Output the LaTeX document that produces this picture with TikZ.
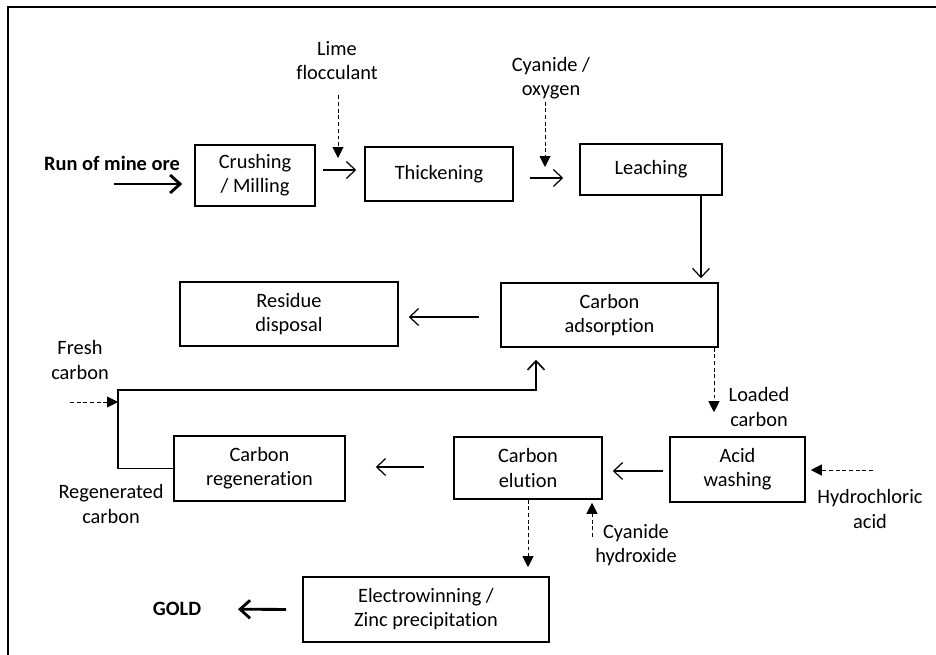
\documentclass[tikz,border=0pt]{standalone}
\usepackage{fontspec}
\setmainfont{Carlito}[Ligatures=NoCommon]
\usetikzlibrary{positioning}
\usetikzlibrary{arrows.meta}

\begin{document}
\begin{tikzpicture}[x=0.02cm, y=-0.02cm,
        font=\fontsize{11.6}{13.7}\selectfont,
        stage/.style={draw, rectangle, line width=0.9pt, align=center, inner sep=0pt},
        tag/.style={align=center, inner sep=0pt},
        flow/.style={-{Straight Barb[length=1.8mm,width=3.4mm]}, line width=0.7pt},
        bigflow/.style={-{Straight Barb[length=2mm,width=3.6mm]}, line width=1.6pt},
        feed/.style={-{Triangle[length=2.2mm,width=2.2mm]}, dash pattern=on 2.2pt off 1.6pt, line width=0.5pt}]
            \useasboundingbox (0,0) rectangle (936,655);
            \draw[line width=1.1pt] (936,7) -- (8,7) -- (8,655);

            % Gold recovery process flow
            \node[stage, minimum width=2.4cm, minimum height=1.22cm] (crush) at (255,175.5) {Crushing\\/ Milling};
            \node[stage, minimum width=2.96cm, minimum height=1.08cm] (thick) at (439,174) {Thickening};
            \node[stage, minimum width=2.84cm, minimum height=1.02cm] (leach) at (651,169.5) {Leaching};
            \node[stage, minimum width=4.36cm, minimum height=1.28cm] (residue) at (289,314) {Residue\\disposal};
            \node[stage, minimum width=4.34cm, minimum height=1.28cm] (adsorb) at (609.5,315) {Carbon\\adsorption};
            \node[stage, minimum width=3.42cm, minimum height=1.3cm] (regen) at (259.5,468.5) {Carbon\\regeneration};
            \node[stage, minimum width=2.96cm, minimum height=1.24cm] (elution) at (528,468) {Carbon\\elution};
            \node[stage, minimum width=2.7cm, minimum height=1.3cm] (acid) at (737.5,469.5) {Acid\\washing};
            \node[stage, minimum width=4.92cm, minimum height=1.3cm] (electro) at (426,609.5) {Electrowinning /\\Zinc precipitation};

            % inputs and outputs
            \node[tag] (ore) at (112,163) {\textbf{Run of mine ore}};
            \node[tag] (lime) at (337,61) {Lime\\flocculant};
            \node[tag] (cyox) at (551,78) {Cyanide /\\oxygen};
            \node[tag] (fresh) at (80,360) {Fresh\\carbon};
            \node[tag] (loaded) at (759,407) {Loaded\\carbon};
            \node[tag] (regcarbon) at (111,504) {Regenerated\\carbon};
            \node[tag] (hcl) at (870,509) {Hydrochloric\\acid};
            \node[tag] (cyhyd) at (636,545) {Cyanide\\hydroxide};
            \node[tag] (gold) at (177,609) {\textbf{GOLD}};

            \coordinate (orein) at (114,184);
            \coordinate (limein) at (338,158);
            \coordinate (cyoxin) at (545,167);
            \coordinate (loop) at (118,390);
            \coordinate (freshin) at (70,402);
            \coordinate (hclin) at (873,470);
            \coordinate (cyhydout) at (592,537);

            \draw[bigflow, shorten >=0.24cm] (orein) -- (orein -| crush.west);
            \draw[flow, shorten <=0.14cm, shorten >=0.16cm] ([yshift=0.11cm]crush.east) -- ([yshift=0.11cm]crush.east -| thick.west);
            \draw[flow, shorten <=0.32cm, shorten >=0.32cm] ([yshift=-0.08cm]thick.east) -- ([yshift=-0.08cm]thick.east -| leach.west);
            \draw[flow, shorten >=0.08cm] ([xshift=1cm]leach.south) -- ([xshift=1cm]leach.south |- adsorb.north);
            \draw[flow, shorten <=0.42cm, shorten >=0.2cm] ([yshift=-0.04cm]adsorb.west) -- ([yshift=-0.04cm]adsorb.west -| residue.east);
            \draw[flow, shorten <=0.12cm, shorten >=0.2cm] ([yshift=-0.03cm]acid.west) -- ([yshift=-0.03cm]acid.west -| elution.east);
            \draw[flow, shorten <=0.58cm, shorten >=0.6cm] ([yshift=0.02cm]elution.west) -- ([yshift=0.02cm]elution.west -| regen.east);
            \draw[flow, line width=0.9pt, shorten >=0.24cm] (regen.west) -| (loop) -| ([xshift=-1.47cm]adsorb.south);
            \draw[bigflow, shorten <=0.32cm, shorten >=0.73cm] (electro.west) -- (gold);

            \draw[feed, shorten <=0.3cm] (lime.south -| limein) -- (limein);
            \draw[feed, shorten <=0.05cm] (cyox.south -| cyoxin) -- (cyoxin);
            \draw[feed] (freshin) -- (freshin -| loop);
            \draw[feed, shorten >=0.48cm] ([xshift=2.09cm]adsorb.south) -- ([xshift=2.09cm]adsorb.south |- acid.north);
            \draw[feed, shorten >=0.1cm] (hclin) -- (hclin -| acid.east);
            \draw[feed, shorten >=0.18cm] (elution.south) -- (elution.south |- electro.north);
            \draw[feed, shorten >=0.06cm] (cyhydout) -- (cyhydout |- elution.south);
        \end{tikzpicture}
\end{document}
